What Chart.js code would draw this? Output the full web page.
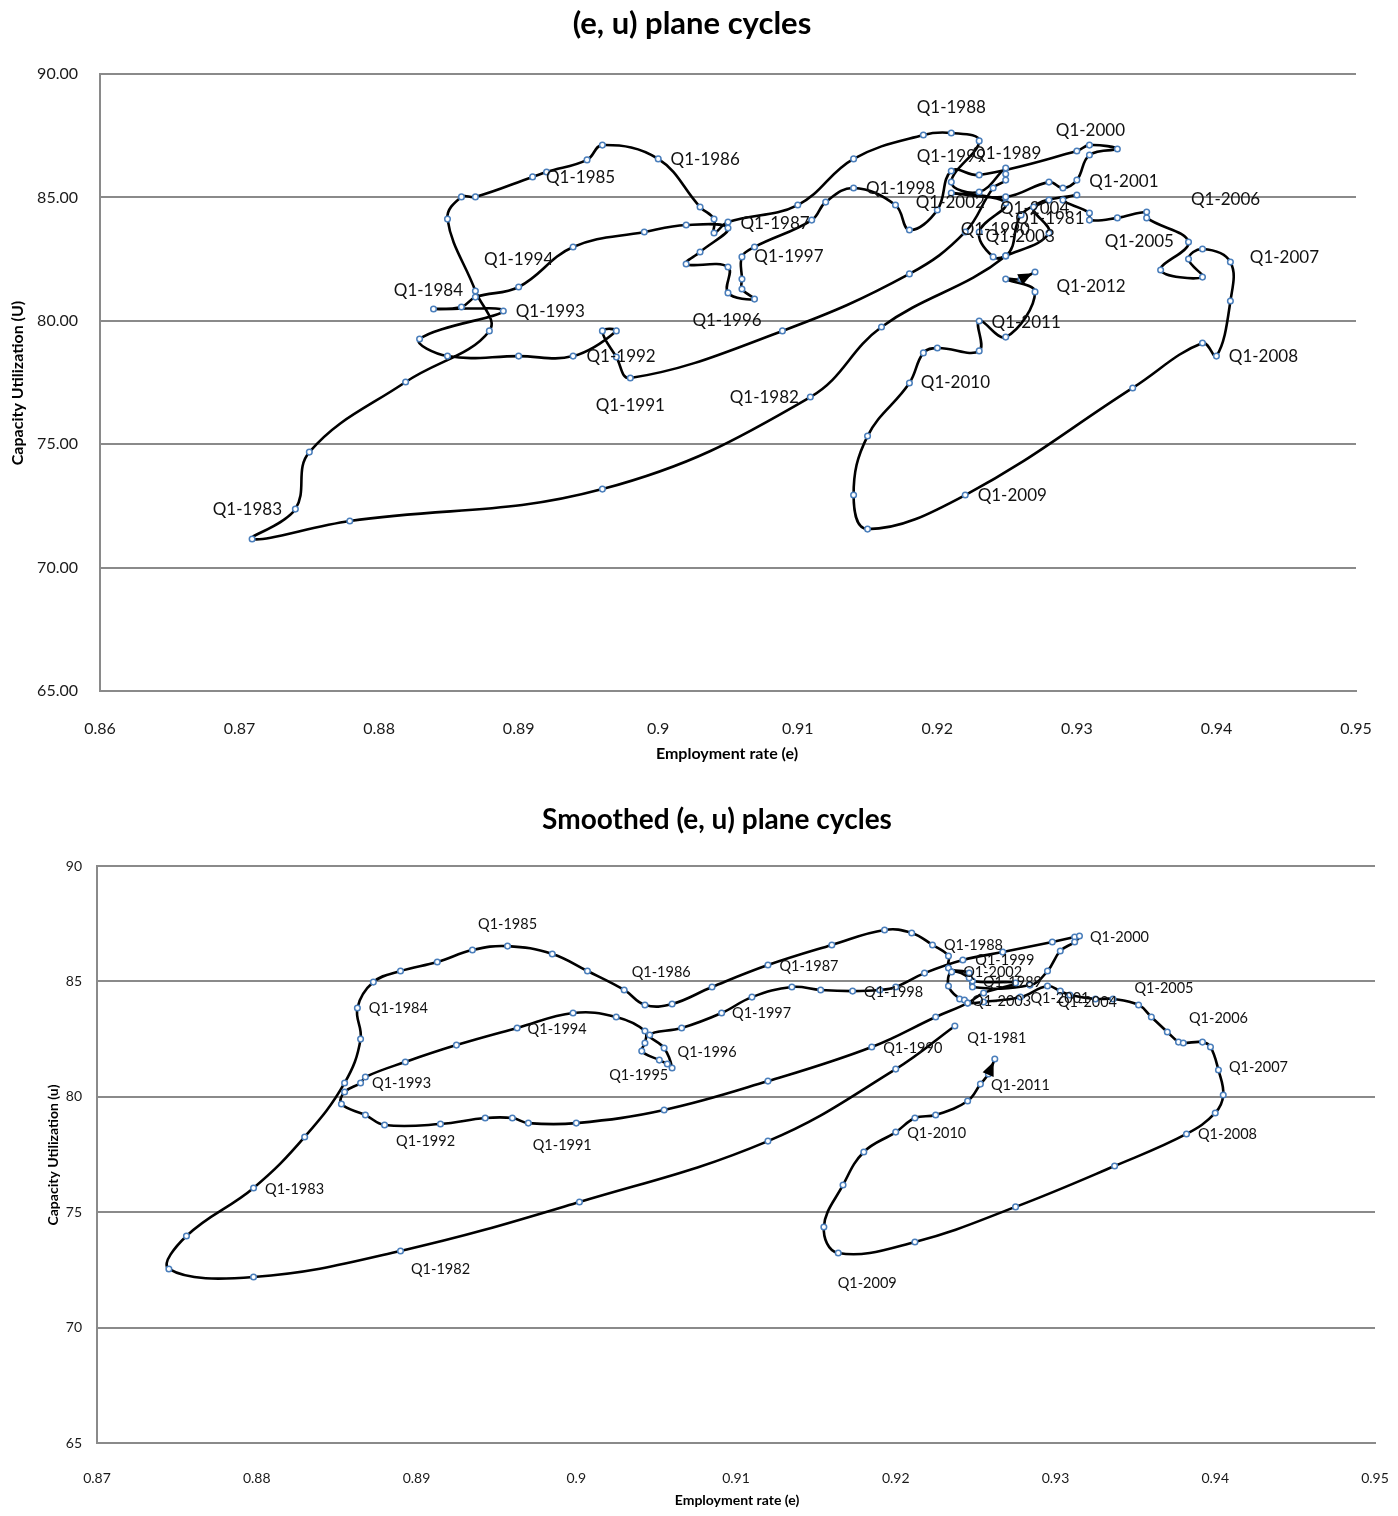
<!DOCTYPE html>
<html lang="en">

<head>
  <meta charset="UTF-8">
  <title>(e, u) plane cycles</title>
  <style>
    html, body { margin: 0; padding: 0; background: #fff; }
    .box { position: absolute; left: 0; width: 1398px; }
    #topBox { top: 0; height: 790px; }
    #bottomBox { top: 790px; height: 726px; }
  </style>
</head>

<body>
  <div class="box" id="topBox"><canvas id="topChart"></canvas></div>
  <div class="box" id="bottomBox"><canvas id="bottomChart"></canvas></div>

  <script src="https://cdn.jsdelivr.net/npm/chart.js"></script>
  <script>
    // ---------- raw quarterly path, 1981 -> 2012 ----------
    const rawEmployment = [
      0.9280, 0.9260, 0.9249, 0.9160, 0.9109, 0.8960, 0.8779, 0.8709, 0.8740, 0.8750,
      0.8819, 0.8879, 0.8869, 0.8849, 0.8859, 0.8869, 0.8910, 0.8920, 0.8949, 0.8960,
      0.9000, 0.9030, 0.9040, 0.9040, 0.9050, 0.9100, 0.9140, 0.9190, 0.9210, 0.9230,
      0.9210, 0.9230, 0.9249, 0.9249, 0.9249, 0.9240, 0.9220, 0.9180, 0.9089, 0.8980,
      0.8970, 0.8960, 0.8970, 0.8939, 0.8900, 0.8849, 0.8829, 0.8889, 0.8839, 0.8859,
      0.8869, 0.8900, 0.8939, 0.8990, 0.9020, 0.9050, 0.9030, 0.9020, 0.9050, 0.9050,
      0.9069, 0.9060, 0.9060, 0.9060, 0.9069, 0.9110, 0.9120, 0.9140, 0.9170, 0.9180,
      0.9200, 0.9210, 0.9230, 0.9300, 0.9309, 0.9329, 0.9309, 0.9300, 0.9290, 0.9280,
      0.9249, 0.9210, 0.9249, 0.9230, 0.9240, 0.9249, 0.9280, 0.9269, 0.9300, 0.9290,
      0.9309, 0.9309, 0.9329, 0.9350, 0.9350, 0.9380, 0.9360, 0.9390, 0.9380, 0.9390,
      0.9410, 0.9410, 0.9400, 0.9390, 0.9340, 0.9220, 0.9150, 0.9140, 0.9150, 0.9180,
      0.9190, 0.9200, 0.9230, 0.9230, 0.9249, 0.9270, 0.9249, 0.9260, 0.9270
    ];
    const rawUtilization = [
      84.89, 84.29, 82.63, 79.75, 76.91, 73.18, 71.89, 71.16, 72.37, 74.68,
      77.52, 79.59, 81.21, 84.12, 85.02, 85.02, 85.83, 86.03, 86.52, 87.12,
      86.56, 84.61, 84.12, 83.56, 84.00, 84.69, 86.56, 87.53, 87.61, 87.29,
      85.62, 85.22, 86.19, 85.95, 85.70, 85.38, 83.60, 81.90, 79.59, 77.68,
      78.53, 79.59, 79.59, 78.57, 78.57, 78.57, 79.26, 80.40, 80.48, 80.56,
      80.96, 81.37, 82.99, 83.60, 83.88, 83.76, 82.79, 82.30, 82.18, 81.13,
      80.88, 81.29, 81.69, 82.59, 82.99, 84.08, 84.81, 85.38, 84.69, 83.68,
      84.49, 86.07, 85.91, 86.88, 87.12, 86.96, 86.72, 85.70, 85.38, 85.62,
      85.02, 85.18, 84.77, 83.60, 82.59, 82.63, 83.56, 84.61, 85.10, 84.89,
      84.37, 84.08, 84.17, 84.41, 84.17, 83.19, 82.06, 81.77, 82.50, 82.91,
      82.38, 80.80, 78.57, 79.10, 77.28, 72.94, 71.56, 72.94, 75.33, 77.48,
      78.70, 78.90, 78.78, 79.99, 79.34, 81.17, 81.69, 81.69, 81.98
    ];
    const rawLabelText = [
      'Q1-1981', 'Q1-1982', 'Q1-1983', 'Q1-1984', 'Q1-1985', 'Q1-1986', 'Q1-1987', 'Q1-1988',
      'Q1-1989', 'Q1-1990', 'Q1-1991', 'Q1-1992', 'Q1-1993', 'Q1-1994', 'Q1-1996', 'Q1-1997',
      'Q1-1998', 'Q1-1999', 'Q1-2000', 'Q1-2001', 'Q1-2002', 'Q1-2003', 'Q1-2004', 'Q1-2005',
      'Q1-2006', 'Q1-2007', 'Q1-2008', 'Q1-2009', 'Q1-2010', 'Q1-2011', 'Q1-2012'
    ];
    const rawLabelPoint = [
      0, 4, 8, 12, 16, 20, 24, 28, 32, 36, 39, 43, 47, 51, 59, 63,
      67, 71, 74, 77, 81, 83, 87, 92, 95, 100, 102, 105, 109, 113, 115
    ];

    // ---------- smoothed path, 1981 -> 2011 ----------
    const smoothEmployment = [
      0.9237, 0.9200, 0.9120, 0.9002, 0.8890, 0.8798, 0.8745, 0.8756, 0.8798, 0.8830,
      0.8855, 0.8865, 0.8863, 0.8873, 0.8890, 0.8913, 0.8935, 0.8957, 0.8985, 0.9007,
      0.9030, 0.9043, 0.9060, 0.9085, 0.9120, 0.9160, 0.9193, 0.9210, 0.9223, 0.9233,
      0.9233, 0.9246, 0.9248, 0.9275, 0.9255, 0.9245, 0.9225, 0.9185, 0.9120, 0.9055,
      0.9000, 0.8970, 0.8960, 0.8943, 0.8915, 0.8880, 0.8868, 0.8853, 0.8855, 0.8865,
      0.8868, 0.8893, 0.8925, 0.8963, 0.8998, 0.9025, 0.9043, 0.9043, 0.9041, 0.9052,
      0.9057, 0.9060, 0.9055, 0.9046, 0.9066, 0.9091, 0.9110, 0.9135, 0.9153, 0.9173,
      0.9190, 0.9200, 0.9218, 0.9242, 0.9267, 0.9298, 0.9312, 0.9315, 0.9312, 0.9303,
      0.9295, 0.9284, 0.9248, 0.9246, 0.9235, 0.9233, 0.9240, 0.9243, 0.9245, 0.9255,
      0.9278, 0.9295, 0.9303, 0.9309, 0.9325, 0.9336, 0.9352, 0.9360, 0.9370, 0.9377,
      0.9380, 0.9392, 0.9397, 0.9402, 0.9405, 0.9400, 0.9382, 0.9337, 0.9275, 0.9212,
      0.9164, 0.9155, 0.9167, 0.9180, 0.9200, 0.9212, 0.9225, 0.9245, 0.9253, 0.9258,
      0.9262
    ];
    const smoothUtilization = [
      83.07, 81.20, 78.08, 75.44, 73.32, 72.19, 72.54, 73.97, 76.05, 78.26,
      80.60, 82.50, 83.85, 84.97, 85.45, 85.84, 86.36, 86.53, 86.19, 85.45,
      84.63, 83.98, 84.02, 84.76, 85.71, 86.58, 87.23, 87.10, 86.58, 86.10,
      85.58, 85.36, 85.02, 84.93, 84.50, 84.06, 83.46, 82.16, 80.68, 79.43,
      78.86, 78.86, 79.08, 79.08, 78.82, 78.78, 79.21, 79.69, 80.21, 80.60,
      80.86, 81.51, 82.24, 82.98, 83.63, 83.46, 82.85, 82.33, 81.98, 81.59,
      81.42, 81.25, 82.11, 82.68, 82.98, 83.63, 84.32, 84.76, 84.63, 84.58,
      84.63, 84.76, 85.36, 85.93, 86.27, 86.71, 86.92, 86.97, 86.71, 86.32,
      85.45, 84.84, 84.76, 85.15, 85.41, 84.80, 84.24, 84.19, 84.06, 84.11,
      84.32, 84.80, 84.58, 84.41, 84.24, 84.24, 83.98, 83.46, 82.81, 82.37,
      82.33, 82.37, 82.16, 81.16, 80.08, 79.30, 78.39, 77.00, 75.23, 73.71,
      73.23, 74.36, 76.18, 77.61, 78.47, 79.08, 79.21, 79.82, 80.55, 80.99,
      81.64
    ];
    const smoothLabelText = [
      'Q1-1981', 'Q1-1982', 'Q1-1983', 'Q1-1984', 'Q1-1985', 'Q1-1986', 'Q1-1987', 'Q1-1988',
      'Q1-1989', 'Q1-1990', 'Q1-1991', 'Q1-1992', 'Q1-1993', 'Q1-1994', 'Q1-1995', 'Q1-1996',
      'Q1-1997', 'Q1-1998', 'Q1-1999', 'Q1-2000', 'Q1-2001', 'Q1-2002', 'Q1-2003', 'Q1-2004',
      'Q1-2005', 'Q1-2006', 'Q1-2007', 'Q1-2008', 'Q1-2009', 'Q1-2010', 'Q1-2011'
    ];
    const smoothLabelPoint = [
      0, 4, 8, 12, 17, 20, 24, 28, 32, 37, 40, 45, 49, 53, 58, 62,
      65, 69, 73, 77, 81, 84, 88, 91, 95, 99, 103, 106, 110, 114, 118
    ];

    // ---------- axis ticks ----------
    const rawXTicks = [0.86, 0.87, 0.88, 0.89, 0.90, 0.91, 0.92, 0.93, 0.94, 0.95];
    const rawXTickLabels = ['0.86', '0.87', '0.88', '0.89', '0.9', '0.91', '0.92', '0.93', '0.94', '0.95'];
    const rawYTicks = [65, 70, 75, 80, 85, 90];
    const rawYTickLabels = ['65.00', '70.00', '75.00', '80.00', '85.00', '90.00'];
    const smoothXTicks = [0.87, 0.88, 0.89, 0.90, 0.91, 0.92, 0.93, 0.94, 0.95];
    const smoothXTickLabels = ['0.87', '0.88', '0.89', '0.9', '0.91', '0.92', '0.93', '0.94', '0.95'];
    const smoothYTicks = [65, 70, 75, 80, 85, 90];
    const smoothYTickLabels = ['65', '70', '75', '80', '85', '90'];

    // label placement (pixel shift from its point), style only
    const rawLabelShift = {
      'Q1-1981': [1, 18], 'Q1-1982': [-46, 0], 'Q1-1983': [-48, 0], 'Q1-1984': [-47, 0],
      'Q1-1985': [48, 1], 'Q1-1986': [47, 1], 'Q1-1987': [47, 1], 'Q1-1988': [0, -25],
      'Q1-1989': [1, -15], 'Q1-1990': [30, -2], 'Q1-1991': [0, 27], 'Q1-1992': [48, 0],
      'Q1-1993': [47, 1], 'Q1-1994': [0, -27], 'Q1-1996': [-1, 28], 'Q1-1997': [47, 0],
      'Q1-1998': [47, 0], 'Q1-1999': [0, -14], 'Q1-2000': [1, -15], 'Q1-2001': [47, 1],
      'Q1-2002': [-1, 10], 'Q1-2003': [41, 5], 'Q1-2004': [1, 1], 'Q1-2005': [22, 24],
      'Q1-2006': [37, -43], 'Q1-2007': [54, -5], 'Q1-2008': [47, 0], 'Q1-2009': [47, 0],
      'Q1-2010': [46, 0], 'Q1-2011': [47, 1], 'Q1-2012': [56, -5]
    };
    const smoothLabelShift = {
      'Q1-1981': [42, 12], 'Q1-1982': [40, 18], 'Q1-1983': [41, 1], 'Q1-1984': [41, 0],
      'Q1-1985': [0, -22], 'Q1-1986': [37, -18], 'Q1-1987': [41, 1], 'Q1-1988': [41, 0],
      'Q1-1989': [40, 1], 'Q1-1990': [41, 1], 'Q1-1991': [-14, 22], 'Q1-1992': [41, 16],
      'Q1-1993': [41, 0], 'Q1-1994': [40, 1], 'Q1-1995': [-3, 24], 'Q1-1996': [43, 4],
      'Q1-1997': [40, 0], 'Q1-1998': [41, 1], 'Q1-1999': [42, 0], 'Q1-2000': [40, 1],
      'Q1-2001': [30, 13], 'Q1-2002': [41, 0], 'Q1-2003': [34, -2], 'Q1-2004': [40, 16],
      'Q1-2005': [51, -11], 'Q1-2006': [40, -24], 'Q1-2007': [40, -3], 'Q1-2008': [41, 0],
      'Q1-2009': [29, 30], 'Q1-2010': [41, 1], 'Q1-2011': [40, 1]
    };

    const FONT = 'Lato, "Open Sans", sans-serif';
    const GRID = '#8a8a8a';

    // titles, point labels and the end arrow
    function decorations(cfg) {
      return {
        id: 'decor',
        afterDatasetsDraw(chart) {
          const ctx = chart.ctx;
          const pts = chart.getDatasetMeta(0).data;

          // arrow head just before the last point
          const a = pts[pts.length - 2], b = pts[pts.length - 1];
          const ang = Math.atan2(b.y - a.y, b.x - a.x);
          const c = Math.cos(ang), s = Math.sin(ang);
          const tipX = b.x - c * 3, tipY = b.y - s * 3;
          ctx.save();
          ctx.fillStyle = '#000';
          ctx.beginPath();
          ctx.moveTo(tipX, tipY);
          ctx.lineTo(tipX - 14 * c + 6 * s, tipY - 14 * s - 6 * c);
          ctx.lineTo(tipX - 14 * c - 6 * s, tipY - 14 * s + 6 * c);
          ctx.closePath();
          ctx.fill();

          // point labels
          ctx.font = cfg.labelFont;
          ctx.fillStyle = '#111';
          ctx.textAlign = 'center';
          ctx.textBaseline = 'middle';
          cfg.labelText.forEach(function (text, i) {
            const p = pts[cfg.labelPoint[i]];
            const sh = cfg.labelShift[text] || [40, 0];
            ctx.fillText(text, p.x + sh[0], p.y + sh[1]);
          });

          // chart title and axis titles
          ctx.fillStyle = '#000';
          ctx.font = cfg.titleFont;
          ctx.fillText(cfg.title, cfg.titlePos[0], cfg.titlePos[1]);
          ctx.font = cfg.axisFont;
          ctx.fillText(cfg.xTitle, cfg.xTitlePos[0], cfg.xTitlePos[1]);
          ctx.translate(cfg.yTitlePos[0], cfg.yTitlePos[1]);
          ctx.rotate(-Math.PI / 2);
          ctx.fillText(cfg.yTitle, 0, 0);
          ctx.restore();
        }
      };
    }

    function makeChart(canvasId, cfg) {
      const points = cfg.e.map(function (v, i) { return { x: v, y: cfg.u[i] }; });
      return new Chart(document.getElementById(canvasId), {
        type: 'scatter',
        data: {
          datasets: [{
            data: points,
            showLine: true,
            borderColor: '#000',
            borderWidth: 2.6,
            tension: 0.4,
            pointRadius: 2.8,
            pointBorderWidth: 1.5,
            pointBorderColor: '#4a7ebb',
            pointBackgroundColor: '#fff'
          }]
        },
        options: {
          responsive: true,
          maintainAspectRatio: false,
          animation: false,
          layout: { padding: cfg.padding },
          plugins: { legend: { display: false }, tooltip: { enabled: false } },
          scales: {
            x: {
              type: 'linear',
              min: cfg.xTicks[0],
              max: cfg.xTicks[cfg.xTicks.length - 1],
              afterBuildTicks: function (s) { s.ticks = cfg.xTicks.map(function (v) { return { value: v }; }); },
              afterFit: function (s) {
                s.height = cfg.xAxisHeight;
                s.paddingLeft = 0;
                s.paddingRight = 0;
              },
              grid: { display: false },
              border: { display: true, color: GRID, width: 2 },
              ticks: {
                padding: cfg.xTickPad,
                color: '#1a1a1a',
                font: { family: FONT, size: cfg.tickSize },
                callback: function (v, i) { return cfg.xTickLabels[i]; }
              }
            },
            y: {
              min: cfg.yTicks[0],
              max: cfg.yTicks[cfg.yTicks.length - 1],
              afterBuildTicks: function (s) { s.ticks = cfg.yTicks.map(function (v) { return { value: v }; }); },
              afterFit: function (s) { s.width = cfg.yAxisWidth; },
              grid: { color: GRID, lineWidth: 2, drawTicks: false },
              border: { display: true, color: GRID, width: 2 },
              ticks: {
                padding: cfg.yTickPad,
                color: '#1a1a1a',
                font: { family: FONT, size: cfg.tickSize },
                callback: function (v, i) { return cfg.yTickLabels[i]; }
              }
            }
          }
        },
        plugins: [decorations(cfg)]
      });
    }

    makeChart('topChart', {
      e: rawEmployment, u: rawUtilization,
      labelText: rawLabelText, labelPoint: rawLabelPoint, labelShift: rawLabelShift,
      xTicks: rawXTicks, xTickLabels: rawXTickLabels, yTicks: rawYTicks, yTickLabels: rawYTickLabels,
      padding: { top: 74, right: 42, left: 0, bottom: 0 },
      xAxisHeight: 99, yAxisWidth: 100, xTickPad: 20, yTickPad: 22, tickSize: 16,
      labelFont: '17px ' + FONT,
      title: '(e, u) plane cycles', titlePos: [692, 24], titleFont: 'bold 31px ' + FONT,
      xTitle: 'Employment rate (e)', xTitlePos: [727, 754],
      yTitle: 'Capacity Utilization (U)', yTitlePos: [18, 383], axisFont: 'bold 16px ' + FONT
    });

    makeChart('bottomChart', {
      e: smoothEmployment, u: smoothUtilization,
      labelText: smoothLabelText, labelPoint: smoothLabelPoint, labelShift: smoothLabelShift,
      xTicks: smoothXTicks, xTickLabels: smoothXTickLabels, yTicks: smoothYTicks, yTickLabels: smoothYTickLabels,
      padding: { top: 76, right: 23, left: 0, bottom: 0 },
      xAxisHeight: 73, yAxisWidth: 97, xTickPad: 19, yTickPad: 15, tickSize: 14,
      labelFont: '14.5px ' + FONT,
      title: 'Smoothed (e, u) plane cycles', titlePos: [717, 30], titleFont: 'bold 28px ' + FONT,
      xTitle: 'Employment rate (e)', xTitlePos: [737, 710],
      yTitle: 'Capacity Utilization (u)', yTitlePos: [53, 365], axisFont: 'bold 14px ' + FONT
    });
  </script>
</body>

</html>
